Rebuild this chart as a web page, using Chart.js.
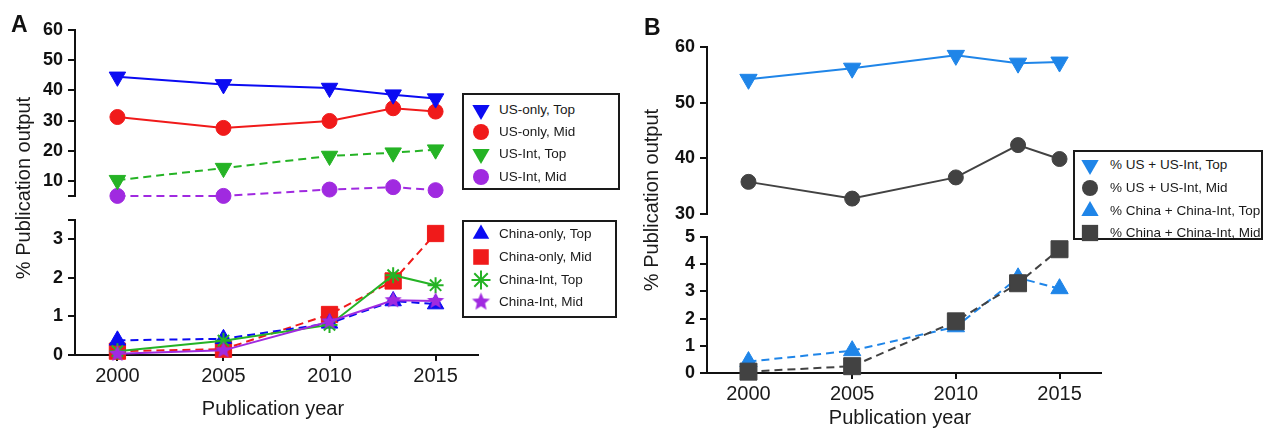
<!DOCTYPE html>
<html><head><meta charset="utf-8">
<script src="https://cdn.jsdelivr.net/npm/chart.js@4.4.0/dist/chart.umd.min.js"></script>
<style>
html,body{margin:0;padding:0;background:#fff;}
#root{position:relative;width:1264px;height:430px;overflow:hidden;font-family:'Liberation Sans',Arial,sans-serif;color:#111;}
canvas.ch{position:absolute;}
.lbl{position:absolute;white-space:nowrap;line-height:1;}
.legend{position:absolute;border:2px solid #1a1a1a;background:#fff;box-sizing:border-box;z-index:5;}
.ltxt{position:absolute;white-space:nowrap;font-size:13.5px;line-height:16px;color:#1a1a1a;}
.lmk{position:absolute;}
</style></head><body><div id="root"></div>
<script>
// ---------------- DATA ----------------
const years = [2000, 2005, 2010, 2013, 2015];
const yearTicks = [2000, 2005, 2010, 2015];
const aUpperTicks = [5, 10, 20, 30, 40, 50, 60];
const aLowerTicks = [0, 1, 2, 3, 3.5];
const bUpperTicks = [30, 40, 50, 60];
const bLowerTicks = [0, 1, 2, 3, 4, 5];
const aUpperUnlabeled = [5];
const aLowerUnlabeled = [3.5];

// Panel A, upper part
const usOnlyTop = [44.5, 42.0, 40.8, 38.6, 37.3];
const usOnlyMid = [31.2, 27.6, 29.9, 34.1, 33.0];
const usIntTop  = [10.3, 14.3, 18.3, 19.4, 20.4];
const usIntMid  = [5.1, 5.1, 7.2, 8.0, 7.0];
// Panel A, lower part
const chinaOnlyTop = [0.38, 0.42, 0.82, 1.40, 1.32];
const chinaOnlyMid = [0.10, 0.15, 1.05, 1.92, 3.15];
const chinaIntTop  = [0.10, 0.37, 0.78, 2.07, 1.81];
const chinaIntMid  = [0.03, 0.12, 0.87, 1.42, 1.40];
// Panel B
const usAllTop    = [54.2, 56.2, 58.5, 57.1, 57.3];
const usAllMid    = [35.8, 32.8, 36.6, 42.4, 39.9];
const chinaAllTop = [0.42, 0.82, 1.70, 3.50, 3.10];
const chinaAllMid = [0.05, 0.25, 1.90, 3.30, 4.55];

const aUpperLabels = ['US-only, Top', 'US-only, Mid', 'US-Int, Top', 'US-Int, Mid'];
const aLowerLabels = ['China-only, Top', 'China-only, Mid', 'China-Int, Top', 'China-Int, Mid'];
const bLabels = ['% US + US-Int, Top', '% US + US-Int, Mid', '% China + China-Int, Top', '% China + China-Int, Mid'];
const xTitle = 'Publication year';
const yTitle = '% Publication output';
const panelLabels = ['A', 'B'];

// ---------------- STYLE ----------------
const FAMILY = "'Liberation Sans', Arial, Helvetica, sans-serif";
Chart.defaults.font.family = FAMILY;
const COL = {blue:'#0b0bf2', red:'#f01a1a', green:'#25b325', purple:'#a02ae0', bBlue:'#1f85e8', gray:'#424242'};
const ST = {
  usOnlyTop:{color:COL.blue, shape:'triangle', rot:180, r:9.5, dash:false},
  usOnlyMid:{color:COL.red, shape:'circle', r:7.5, dash:false},
  usIntTop:{color:COL.green, shape:'triangle', rot:180, r:9.5, dash:true},
  usIntMid:{color:COL.purple, shape:'circle', r:7.5, dash:true},
  chinaOnlyTop:{color:COL.blue, shape:'triangle', rot:0, r:9.5, dash:true},
  chinaOnlyMid:{color:COL.red, shape:'rect', r:11.5, dash:true},
  chinaIntTop:{color:COL.green, shape:'star', r:8, dash:false},
  chinaIntMid:{color:COL.purple, shape:'star5', r:9, dash:false},
  usAllTop:{color:COL.bBlue, shape:'triangle', rot:180, r:10, dash:false},
  usAllMid:{color:COL.gray, shape:'circle', r:7.5, dash:false},
  chinaAllTop:{color:COL.bBlue, shape:'triangle', rot:0, r:10, dash:true},
  chinaAllMid:{color:COL.gray, shape:'rect', r:12, dash:true}
};
const root = document.getElementById('root');

function star5Canvas(color, r) {
  const s = Math.ceil(r * 2 + 2);
  const c = document.createElement('canvas'); c.width = s; c.height = s;
  const g = c.getContext('2d');
  g.fillStyle = color; g.beginPath();
  for (let i = 0; i < 10; i++) {
    const rr = i % 2 === 0 ? r : r * 0.45;
    const a = -Math.PI / 2 + i * Math.PI / 5;
    const px = s / 2 + Math.cos(a) * rr, py = s / 2 + Math.sin(a) * rr;
    i === 0 ? g.moveTo(px, py) : g.lineTo(px, py);
  }
  g.closePath(); g.fill();
  return c;
}

function drawMarker(g, st, x, y) {
  g.save();
  g.fillStyle = st.color; g.strokeStyle = st.color; g.lineWidth = 2;
  const r = st.r;
  if (st.shape === 'star5') {
    const c = star5Canvas(st.color, r);
    g.drawImage(c, x - c.width / 2, y - c.height / 2);
  } else if (st.shape === 'circle') {
    g.beginPath(); g.arc(x, y, r, 0, Math.PI * 2); g.fill();
  } else if (st.shape === 'triangle') {
    let rad = (st.rot || 0) * Math.PI / 180;
    g.beginPath();
    for (let i = 0; i < 3; i++) {
      const px = x + Math.sin(rad) * r, py = y - Math.cos(rad) * r;
      i === 0 ? g.moveTo(px, py) : g.lineTo(px, py);
      rad += 2 * Math.PI / 3;
    }
    g.closePath(); g.fill();
  } else if (st.shape === 'rect') {
    const h = Math.SQRT1_2 * r;
    g.fillRect(x - h, y - h, 2 * h, 2 * h);
  } else if (st.shape === 'star') {
    g.beginPath();
    for (let k = 0; k < 4; k++) {
      const a = k * Math.PI / 4;
      g.moveTo(x - Math.cos(a) * r, y - Math.sin(a) * r);
      g.lineTo(x + Math.cos(a) * r, y + Math.sin(a) * r);
    }
    g.stroke();
  }
  g.restore();
}

function makeDataset(label, values, st, order) {
  return {
    label, order,
    data: years.map((x, i) => ({x, y: values[i]})),
    borderColor: st.color, backgroundColor: st.color,
    borderWidth: 2, borderDash: st.dash ? [8, 5] : [],
    pointStyle: st.shape === 'star5' ? star5Canvas(st.color, st.r) : st.shape,
    pointRotation: st.rot || 0,
    pointRadius: st.r, pointHoverRadius: st.r,
    pointBorderWidth: st.shape === 'star' ? 2 : 1,
    pointBackgroundColor: st.color, pointBorderColor: st.color,
    clip: false, tension: 0, fill: false
  };
}

const xExtend = {
  id: 'xExtend',
  beforeDatasetsDraw(chart) {
    if (!chart.options.scales.x.display) return;
    const {ctx, chartArea: a} = chart;
    ctx.save(); ctx.strokeStyle = '#111'; ctx.lineWidth = 2;
    ctx.beginPath(); ctx.moveTo(a.left - 7, a.bottom); ctx.lineTo(a.left + 1, a.bottom); ctx.stroke();
    ctx.restore();
  }
};

function makeChart(area, datasets, yMin, yMax, yTicks, unlabeled, showX) {
  const W_Y = 70, padT = 16, padR = 24, padB = showX ? 4 : 14, H_X = showX ? 40 : 0;
  const cv = document.createElement('canvas');
  cv.className = 'ch';
  const w = W_Y + (area.r - area.l) + padR;
  const h = padT + (area.b - area.t) + H_X + padB;
  cv.width = w; cv.height = h;
  cv.style.left = (area.l - W_Y) + 'px'; cv.style.top = (area.t - padT) + 'px';
  cv.style.width = w + 'px'; cv.style.height = h + 'px';
  root.appendChild(cv);
  return new Chart(cv.getContext('2d'), {
    type: 'line',
    data: {datasets},
    options: {
      responsive: false, animation: false, devicePixelRatio: 1, events: [],
      layout: {padding: {left: 0, top: padT, right: padR, bottom: padB}, autoPadding: false},
      plugins: {legend: {display: false}, tooltip: {enabled: false}, title: {display: false}},
      scales: {
        x: {
          type: 'linear', display: showX, min: 1998, max: 2017,
          afterBuildTicks: s => { s.ticks = yearTicks.map(v => ({value: v})); },
          afterFit: s => { s.height = H_X; },
          ticks: {callback: v => String(v), color: '#1a1a1a', font: {size: 20, family: FAMILY}, padding: 3, maxRotation: 0, autoSkip: false},
          grid: {drawOnChartArea: false, drawTicks: true, tickLength: 6, lineWidth: 2, color: '#111'},
          border: {display: true, color: '#111', width: 2}
        },
        y: {
          type: 'linear', min: yMin, max: yMax,
          afterBuildTicks: s => { s.ticks = yTicks.map(v => ({value: v})); },
          afterFit: s => { s.width = W_Y; },
          ticks: {callback: v => unlabeled.includes(v) ? '' : String(v), color: '#111', font: {size: 18, weight: 'bold', family: FAMILY}, padding: 5, autoSkip: false},
          grid: {drawOnChartArea: false, drawTicks: true, tickLength: 7, lineWidth: 2, color: '#111'},
          border: {display: true, color: '#111', width: 2}
        }
      }
    },
    plugins: [xExtend]
  });
}

// Panel A
makeChart({l: 75, r: 478, t: 30, b: 198}, [
  makeDataset(aUpperLabels[0], usOnlyTop, ST.usOnlyTop, 1),
  makeDataset(aUpperLabels[1], usOnlyMid, ST.usOnlyMid, 2),
  makeDataset(aUpperLabels[2], usIntTop, ST.usIntTop, 3),
  makeDataset(aUpperLabels[3], usIntMid, ST.usIntMid, 4)
], 5, 60, aUpperTicks, aUpperUnlabeled, false);
makeChart({l: 75, r: 478, t: 220, b: 355}, [
  makeDataset(aLowerLabels[0], chinaOnlyTop, ST.chinaOnlyTop, 3),
  makeDataset(aLowerLabels[1], chinaOnlyMid, ST.chinaOnlyMid, 4),
  makeDataset(aLowerLabels[2], chinaIntTop, ST.chinaIntTop, 2),
  makeDataset(aLowerLabels[3], chinaIntMid, ST.chinaIntMid, 1)
], 0, 3.5, aLowerTicks, aLowerUnlabeled, true);
// Panel B
makeChart({l: 707, r: 1101, t: 47, b: 216}, [
  makeDataset(bLabels[0], usAllTop, ST.usAllTop, 1),
  makeDataset(bLabels[1], usAllMid, ST.usAllMid, 2)
], 30, 60, bUpperTicks, [], false);
makeChart({l: 707, r: 1101, t: 237, b: 373}, [
  makeDataset(bLabels[2], chinaAllTop, ST.chinaAllTop, 2),
  makeDataset(bLabels[3], chinaAllMid, ST.chinaAllMid, 1)
], 0, 5, bLowerTicks, [], true);

// Legends
function makeLegend(box, labels, styles, rowYs, mx, tx) {
  const d = document.createElement('div');
  d.className = 'legend';
  Object.assign(d.style, {left: box.l + 'px', top: box.t + 'px', width: box.w + 'px', height: box.h + 'px'});
  labels.forEach((lab, i) => {
    const c = document.createElement('canvas');
    c.className = 'lmk'; c.width = 26; c.height = 24;
    c.style.left = (mx - 13) + 'px'; c.style.top = (rowYs[i] - 12) + 'px';
    drawMarker(c.getContext('2d'), styles[i], 13, 12);
    d.appendChild(c);
    const t = document.createElement('div');
    t.className = 'ltxt'; t.textContent = lab;
    t.style.left = tx + 'px'; t.style.top = (rowYs[i] - 8) + 'px';
    d.appendChild(t);
  });
  root.appendChild(d);
}
const legStA1 = [ST.usOnlyTop, ST.usOnlyMid, ST.usIntTop, ST.usIntMid].map(s => Object.assign({}, s, {r: s.shape === 'circle' ? 8 : 10}));
const legStA2 = [ST.chinaOnlyTop, ST.chinaOnlyMid, ST.chinaIntTop, ST.chinaIntMid].map(s => Object.assign({}, s, {r: s.shape === 'rect' ? 11 : 9.5}));
const legStB = [ST.usAllTop, ST.usAllMid, ST.chinaAllTop, ST.chinaAllMid].map(s => Object.assign({}, s, {r: s.shape === 'rect' ? 11.5 : (s.shape === 'circle' ? 8 : 10)}));
makeLegend({l: 462, t: 93, w: 158, h: 97}, aUpperLabels, legStA1, [15, 37, 59, 82], 17, 35);
makeLegend({l: 462, t: 220, w: 155, h: 98}, aLowerLabels, legStA2, [12, 35, 58, 80], 17, 35);
makeLegend({l: 1073, t: 150, w: 190, h: 90}, bLabels, legStB, [13, 36, 59, 81], 15, 35);

// Titles
function addText(txt, css) {
  const d = document.createElement('div');
  d.className = 'lbl'; d.textContent = txt;
  Object.assign(d.style, css);
  root.appendChild(d);
}
addText(panelLabels[0], {left: '11px', top: '13px', fontSize: '23px', fontWeight: 'bold'});
addText(panelLabels[1], {left: '644px', top: '16px', fontSize: '23px', fontWeight: 'bold'});
addText(xTitle, {left: '273px', top: '408px', fontSize: '20px', transform: 'translate(-50%,-50%)', color: '#1a1a1a'});
addText(xTitle, {left: '900px', top: '417px', fontSize: '20px', transform: 'translate(-50%,-50%)', color: '#1a1a1a'});
addText(yTitle, {left: '23px', top: '188px', fontSize: '20px', transform: 'translate(-50%,-50%) rotate(-90deg)', color: '#1a1a1a'});
addText(yTitle, {left: '651px', top: '200px', fontSize: '20px', transform: 'translate(-50%,-50%) rotate(-90deg)', color: '#1a1a1a'});
</script>
</body></html>
